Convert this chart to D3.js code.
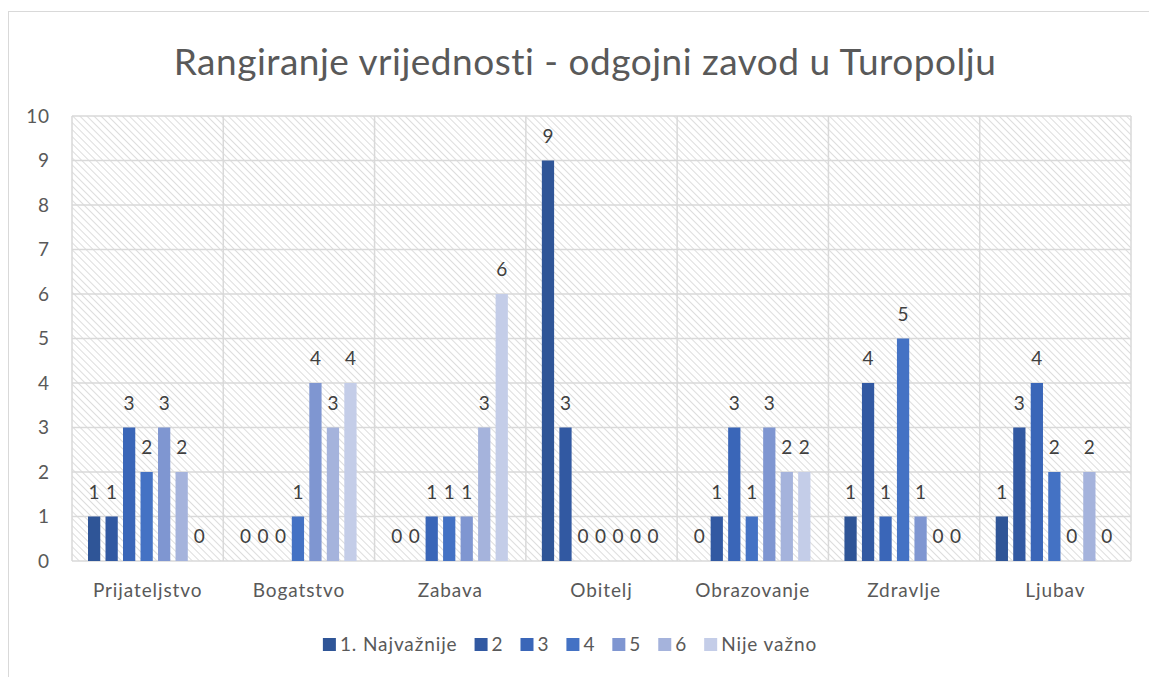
<!DOCTYPE html>
<html>
<head>
<meta charset="utf-8">
<script src="https://cdn.jsdelivr.net/npm/d3@7"></script>
<style>
  body { margin: 0; background: #fff; }
  text { font-family: Lato, "Open Sans", sans-serif; }
</style>
</head>
<body>
<svg id="chart" width="1149" height="677"></svg>
<script>
// Categories, series and values
const categories = ["Prijateljstvo", "Bogatstvo", "Zabava", "Obitelj", "Obrazovanje", "Zdravlje", "Ljubav"];
const seriesNames = ["1. Najvažnije", "2", "3", "4", "5", "6", "Nije važno"];
const seriesColors = ["#2F5597", "#3259A2", "#3A66B8", "#4472C4", "#7F96D1", "#A5B3DC", "#C4CDE8"];
const values = [
  [1, 1, 3, 2, 3, 2, 0],   // Prijateljstvo
  [0, 0, 0, 1, 4, 3, 4],   // Bogatstvo
  [0, 0, 1, 1, 1, 3, 6],   // Zabava
  [9, 3, 0, 0, 0, 0, 0],   // Obitelj
  [0, 1, 3, 1, 3, 2, 2],   // Obrazovanje
  [1, 4, 1, 5, 1, 0, 0],   // Zdravlje
  [1, 3, 4, 2, 0, 2, 0]    // Ljubav
];
const yTicks = [0, 1, 2, 3, 4, 5, 6, 7, 8, 9, 10];

const margin = { top: 116, right: 18, bottom: 116, left: 72 };
const W = 1149, H = 677;
const width = W - margin.left - margin.right;
const height = H - margin.top - margin.bottom;

const labelFont = "19px";
const labelSpacing = "0.9px";

const svg = d3.select("#chart");

// outer chart border
svg.append("rect")
    .attr("x", 8.5).attr("y", 11.5)
    .attr("width", W + 20).attr("height", H + 20)
    .attr("fill", "none")
    .attr("stroke", "#d9d9d9");

// hatch pattern for plot background
const defs = svg.append("defs");
const pat = defs.append("pattern")
    .attr("id", "hatch")
    .attr("patternUnits", "userSpaceOnUse")
    .attr("width", 5).attr("height", 5)
    .attr("patternTransform", "rotate(-45)");
pat.append("line")
    .attr("x1", 0).attr("y1", 0).attr("x2", 0).attr("y2", 5)
    .attr("stroke", "#d4d4d4").attr("stroke-width", 1.6);

// title
svg.append("text")
    .attr("x", 585).attr("y", 75)
    .attr("text-anchor", "middle")
    .attr("fill", "#595959")
    .style("font-size", "37px")
    .style("letter-spacing", "0.5px")
    .text("Rangiranje vrijednosti - odgojni zavod u Turopolju");

const g = svg.append("g")
    .attr("transform", `translate(${margin.left},${margin.top})`);

// scales
const x0 = d3.scaleBand().domain(categories).range([0, width]).padding(0);
const x1 = d3.scaleBand().domain(seriesNames)
    .range([16, x0.bandwidth() - 18]).paddingInner(0.3).paddingOuter(0);
const y = d3.scaleLinear().domain([0, 10]).range([height, 0]);
const color = d3.scaleOrdinal().domain(seriesNames).range(seriesColors);

g.append("rect")
    .attr("width", width).attr("height", height)
    .attr("fill", "url(#hatch)");

// horizontal gridlines
g.selectAll(".hgrid")
    .data(yTicks)
    .enter().append("line")
    .attr("x1", 0).attr("x2", width)
    .attr("y1", d => y(d)).attr("y2", d => y(d))
    .attr("stroke", "#d9d9d9").attr("stroke-width", 1.5);

// vertical separators between categories
const seps = categories.map(c => x0(c)).concat([width]);
g.selectAll(".vgrid")
    .data(seps)
    .enter().append("line")
    .attr("x1", d => d).attr("x2", d => d)
    .attr("y1", 0).attr("y2", height)
    .attr("stroke", "#d9d9d9").attr("stroke-width", 1.5);

// y axis labels
const yAxis = g.append("g")
    .call(d3.axisLeft(y).tickValues(yTicks).tickSize(0).tickPadding(22));
yAxis.select(".domain").remove();
yAxis.selectAll("text")
    .attr("fill", "#595959")
    .style("font-size", labelFont)
    .style("letter-spacing", labelSpacing)
    .style("font-family", "Lato, 'Open Sans', sans-serif");

// x axis labels
const xAxis = g.append("g")
    .attr("transform", `translate(0,${height})`)
    .call(d3.axisBottom(x0).tickSize(0).tickPadding(23));
xAxis.select(".domain").remove();
xAxis.selectAll("text")
    .attr("fill", "#595959")
    .style("font-size", labelFont)
    .style("letter-spacing", labelSpacing)
    .style("font-family", "Lato, 'Open Sans', sans-serif");

// bars
const groups = g.selectAll(".cat")
    .data(categories)
    .enter().append("g")
    .attr("transform", d => `translate(${x0(d)},0)`);

const cells = groups.selectAll(".bar")
    .data((c, i) => seriesNames.map((s, j) => ({ s, v: values[i][j] })))
    .enter();

cells.append("rect")
    .attr("x", d => x1(d.s))
    .attr("width", x1.bandwidth())
    .attr("y", d => y(d.v))
    .attr("height", d => height - y(d.v))
    .attr("fill", d => color(d.s));

cells.append("text")
    .attr("x", d => x1(d.s) + x1.bandwidth() / 2)
    .attr("y", d => y(d.v) - 18)
    .attr("text-anchor", "middle")
    .attr("fill", "#404040")
    .style("font-size", labelFont)
    .text(d => d.v);

// legend
const legend = svg.append("g").attr("transform", "translate(0,651)");
const items = legend.selectAll(".item")
    .data(seriesNames)
    .enter().append("g");
items.append("rect")
    .attr("y", -13).attr("width", 13).attr("height", 13)
    .attr("fill", d => color(d));
items.append("text")
    .attr("x", 17).attr("y", 0)
    .attr("fill", "#595959")
    .style("font-size", labelFont)
    .style("letter-spacing", labelSpacing)
    .text(d => d);

let cursor = 0;
const offsets = [];
items.each(function() {
    offsets.push(cursor);
    const tw = d3.select(this).select("text").node().getComputedTextLength();
    cursor += 17 + tw + 17;
});
const total = cursor - 17;
const startX = 570 - total / 2;
items.attr("transform", (d, i) => `translate(${startX + offsets[i]},0)`);
</script>
</body>
</html>
